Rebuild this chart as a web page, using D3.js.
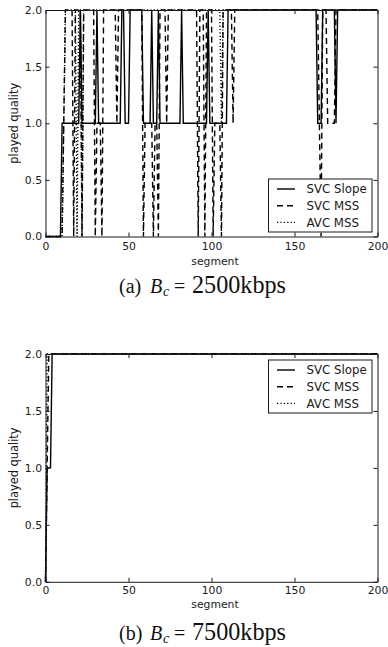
<!DOCTYPE html>
<html><head><meta charset="utf-8">
<script src="https://cdn.jsdelivr.net/npm/d3@7"></script>
<style>body{margin:0;background:#fff}svg{display:block}</style>
</head><body>
<script>
// ---- data (segment, quality vertices) ----
const seriesNames = ["SVC Slope", "SVC MSS", "AVC MSS"];
const xTicks = [0, 50, 100, 150, 200];
const yTicks = [0.0, 0.5, 1.0, 1.5, 2.0];

// panel (a) Bc = 2500kbps
const aSlopeX = [0,9,10,20,21,22,30,31,32,45,46,47,48,50,51,58,59,63,64,65,67,68,69,81,82,83,97,98,99,109,110,163,164,166,167,174,175,176,200];
const aSlopeY = [0,0,1,1,2,1,1,2,1,1,2,2,1,1,2,2,1,1,2,1,1,2,1,1,2,1,1,2,1,1,2,2,1,1,2,2,1,2,2];
const aMssX = [0,10,11,12,16,17,18,21,22,23,29,30,31,33,34,35,42,43,44,58,59,60,64,65,66,67,68,69,72,73,74,91,92,93,95,96,97,100,101,102,105,106,107,112,113,114,164,165,166,167,169,170,174,175,200];
const aMssY = [0,0,1,2,2,0,2,2,0,2,2,0,1,1,0,2,2,1,2,2,0,1,1,0,1,1,0,2,2,1,2,2,0,2,2,0,2,2,0,1,1,0,2,2,1,2,2,1,0,2,2,1,1,2,2];
const aAvcX = [0,10,12,18,19,20,21,22,23,105,106,107,200];
const aAvcY = [0,0,2,2,0,2,2,0,2,2,1,2,2];

// panel (b) Bc = 7500kbps
const bSlopeX = [0,1,3,4,200];
const bSlopeY = [0,1,1,2,2];
const bMssX = [0,2,200];
const bMssY = [0,2,2];
const bAvcX = [0,1,200];
const bAvcY = [0,2,2];

const W = 388, H = 647;
const svg = d3.select("body").append("svg").attr("width", W).attr("height", H);
const dashes = [null, "6,4", "1.2,2.2"];
const INK = "#1a1a1a";

function panel(top, bottom, series, legendTop, caption, labOff, capBase) {
  const x = d3.scaleLinear().domain([0, 200]).range([45.5, 377.5]);
  const y = d3.scaleLinear().domain([0, 2]).range([bottom, top]);
  const g = svg.append("g");
  const line = d3.line().x(d => x(d[0])).y(d => y(d[1]));
  series.forEach((s, i) => {
    const pts = s[0].map((v, k) => [v, s[1][k]]);
    g.append("path").attr("d", line(pts)).attr("fill", "none")
      .attr("stroke", "#000").attr("stroke-width", 1.4)
      .attr("stroke-dasharray", dashes[i]);
  });
  const fmtY = d3.format(".1f");
  const ax = (gen, tr) => g.append("g").attr("transform", tr).call(gen)
      .call(s => s.select(".domain").attr("stroke", INK))
      .call(s => s.selectAll("line").attr("stroke", INK))
      .call(s => s.selectAll("text").attr("font-family", "DejaVu Sans").attr("font-size", 10.8).attr("fill", INK));
  ax(d3.axisBottom(x).tickValues(xTicks).tickSizeInner(-4).tickSizeOuter(0).tickPadding(labOff), `translate(0,${bottom})`);
  ax(d3.axisTop(x).tickValues(xTicks).tickSizeInner(-4).tickSizeOuter(0).tickFormat(""), `translate(0,${top})`);
  ax(d3.axisLeft(y).tickValues(yTicks).tickSizeInner(-4).tickSizeOuter(0).tickPadding(3.5).tickFormat(fmtY), `translate(45.5,0)`);
  ax(d3.axisRight(y).tickValues(yTicks).tickSizeInner(-4).tickSizeOuter(0).tickFormat(""), `translate(377.5,0)`);
  g.append("text").attr("x", 215).attr("y", bottom + labOff + 22).attr("text-anchor", "middle")
    .attr("font-family", "DejaVu Sans").attr("font-size", 10.8).attr("fill", INK).text("segment");
  g.append("text").attr("transform", `translate(18,${(top + bottom) / 2}) rotate(-90)`)
    .attr("text-anchor", "middle").attr("font-family", "DejaVu Sans").attr("font-size", 11.4)
    .attr("fill", INK).text("played quality");
  const lg = g.append("g");
  lg.append("rect").attr("x", 268.5).attr("y", legendTop).attr("width", 103.5).attr("height", 53)
    .attr("fill", "#fff").attr("stroke", INK).attr("stroke-width", 1);
  seriesNames.forEach((n, i) => {
    const yy = legendTop + 10 + i * 16.7;
    lg.append("line").attr("x1", 277).attr("x2", 295).attr("y1", yy).attr("y2", yy)
      .attr("stroke", "#000").attr("stroke-width", 1.4).attr("stroke-dasharray", dashes[i]);
    lg.append("text").attr("x", 306.5).attr("y", yy + 4.2).attr("font-family", "DejaVu Sans")
      .attr("font-size", 11.8).attr("fill", INK).text(n);
  });
  // caption, measured so that parts land where the reference puts them
  const fs = 20;
  const c = svg.append("g").attr("font-family", "Liberation Serif").attr("font-size", fs).attr("fill", "#111");
  c.append("text").attr("x", 119).attr("y", capBase).text(caption[0]);
  c.append("text").attr("x", 150).attr("y", capBase).attr("font-style", "italic").text("B");
  c.append("text").attr("x", 163).attr("y", capBase + 3.5).attr("font-style", "italic").attr("font-size", 14).text("c");
  c.append("text").attr("x", 174).attr("y", capBase).text("=");
  const num = c.append("text").attr("x", 192).attr("y", capBase).text(caption[1]);
  const w = num.node().getComputedTextLength();
  num.attr("font-size", fs * 94 / w);
}

panel(10, 236.5, [[aSlopeX, aSlopeY], [aMssX, aMssY], [aAvcX, aAvcY]], 179, ["(a)", "2500kbps"], 6, 292.5);
panel(354, 581.8, [[bSlopeX, bSlopeY], [bMssX, bMssY], [bAvcX, bAvcY]], 360, ["(b)", "7500kbps"], 4.5, 639.5);
</script>
</body></html>
